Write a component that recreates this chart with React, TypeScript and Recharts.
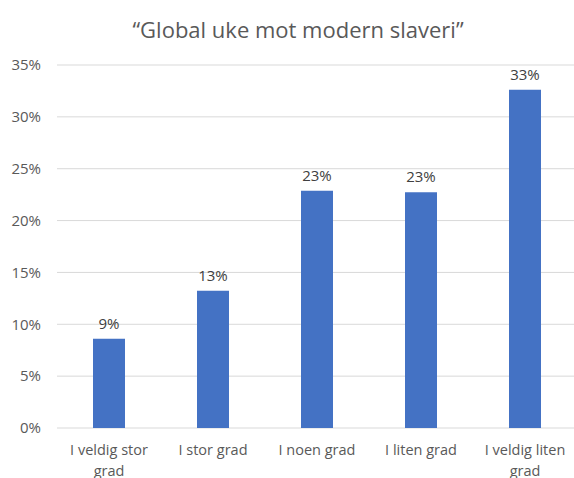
import { Bar, BarChart, CartesianGrid, LabelList, Text, XAxis, YAxis } from "recharts";

const categories = ["I veldig stor grad", "I stor grad", "I noen grad", "I liten grad", "I veldig liten grad"];
const shares = [8.6, 13.24, 22.88, 22.72, 32.62];
const yTicks = [0, 5, 10, 15, 20, 25, 30, 35];

const data = categories.map((name, i) => ({ name, value: shares[i] }));

const FONT = "'Open Sans', sans-serif";

function CategoryTick(props: any) {
  const { x, y, payload } = props;
  return (
    <Text
      x={x}
      y={y + 9}
      width={100}
      textAnchor="middle"
      verticalAnchor="start"
      lineHeight={21}
      fontSize={14.5}
      fontFamily={FONT}
      fill="#595959"
    >
      {payload.value}
    </Text>
  );
}

export default function App() {
  return (
    <div style={{ position: "absolute", left: 0, top: 0, width: 574, height: 478, overflow: "hidden", background: "#fff" }}>
      <BarChart
        width={580}
        height={478}
        data={data}
        barSize={32}
        margin={{ top: 65, right: 3, left: 0, bottom: 0 }}
      >
        <text x={298} y={38} textAnchor="middle" fontSize={22} fontFamily={FONT} fill="#595959">
          “Global uke mot modern slaveri”
        </text>
        <CartesianGrid vertical={false} stroke="#d9d9d9" />
        <XAxis
          dataKey="name"
          axisLine={false}
          tickLine={false}
          height={50}
          interval={0}
          tick={<CategoryTick />}
        />
        <YAxis
          width={57}
          domain={[0, 35]}
          ticks={yTicks}
          axisLine={false}
          tickLine={false}
          tickSize={0}
          tickMargin={16}
          tickFormatter={(v: number) => `${v}%`}
          tick={{ fontSize: 15, fontFamily: FONT, fill: "#595959" }}
        />
        <Bar dataKey="value" fill="#4472c4" isAnimationActive={false}>
          <LabelList
            dataKey="value"
            position="top"
            offset={10}
            formatter={(v: any) => `${Math.round(Number(v))}%`}
            style={{ fontSize: 15, fontFamily: FONT, fill: "#404040" }}
          />
        </Bar>
      </BarChart>
    </div>
  );
}
